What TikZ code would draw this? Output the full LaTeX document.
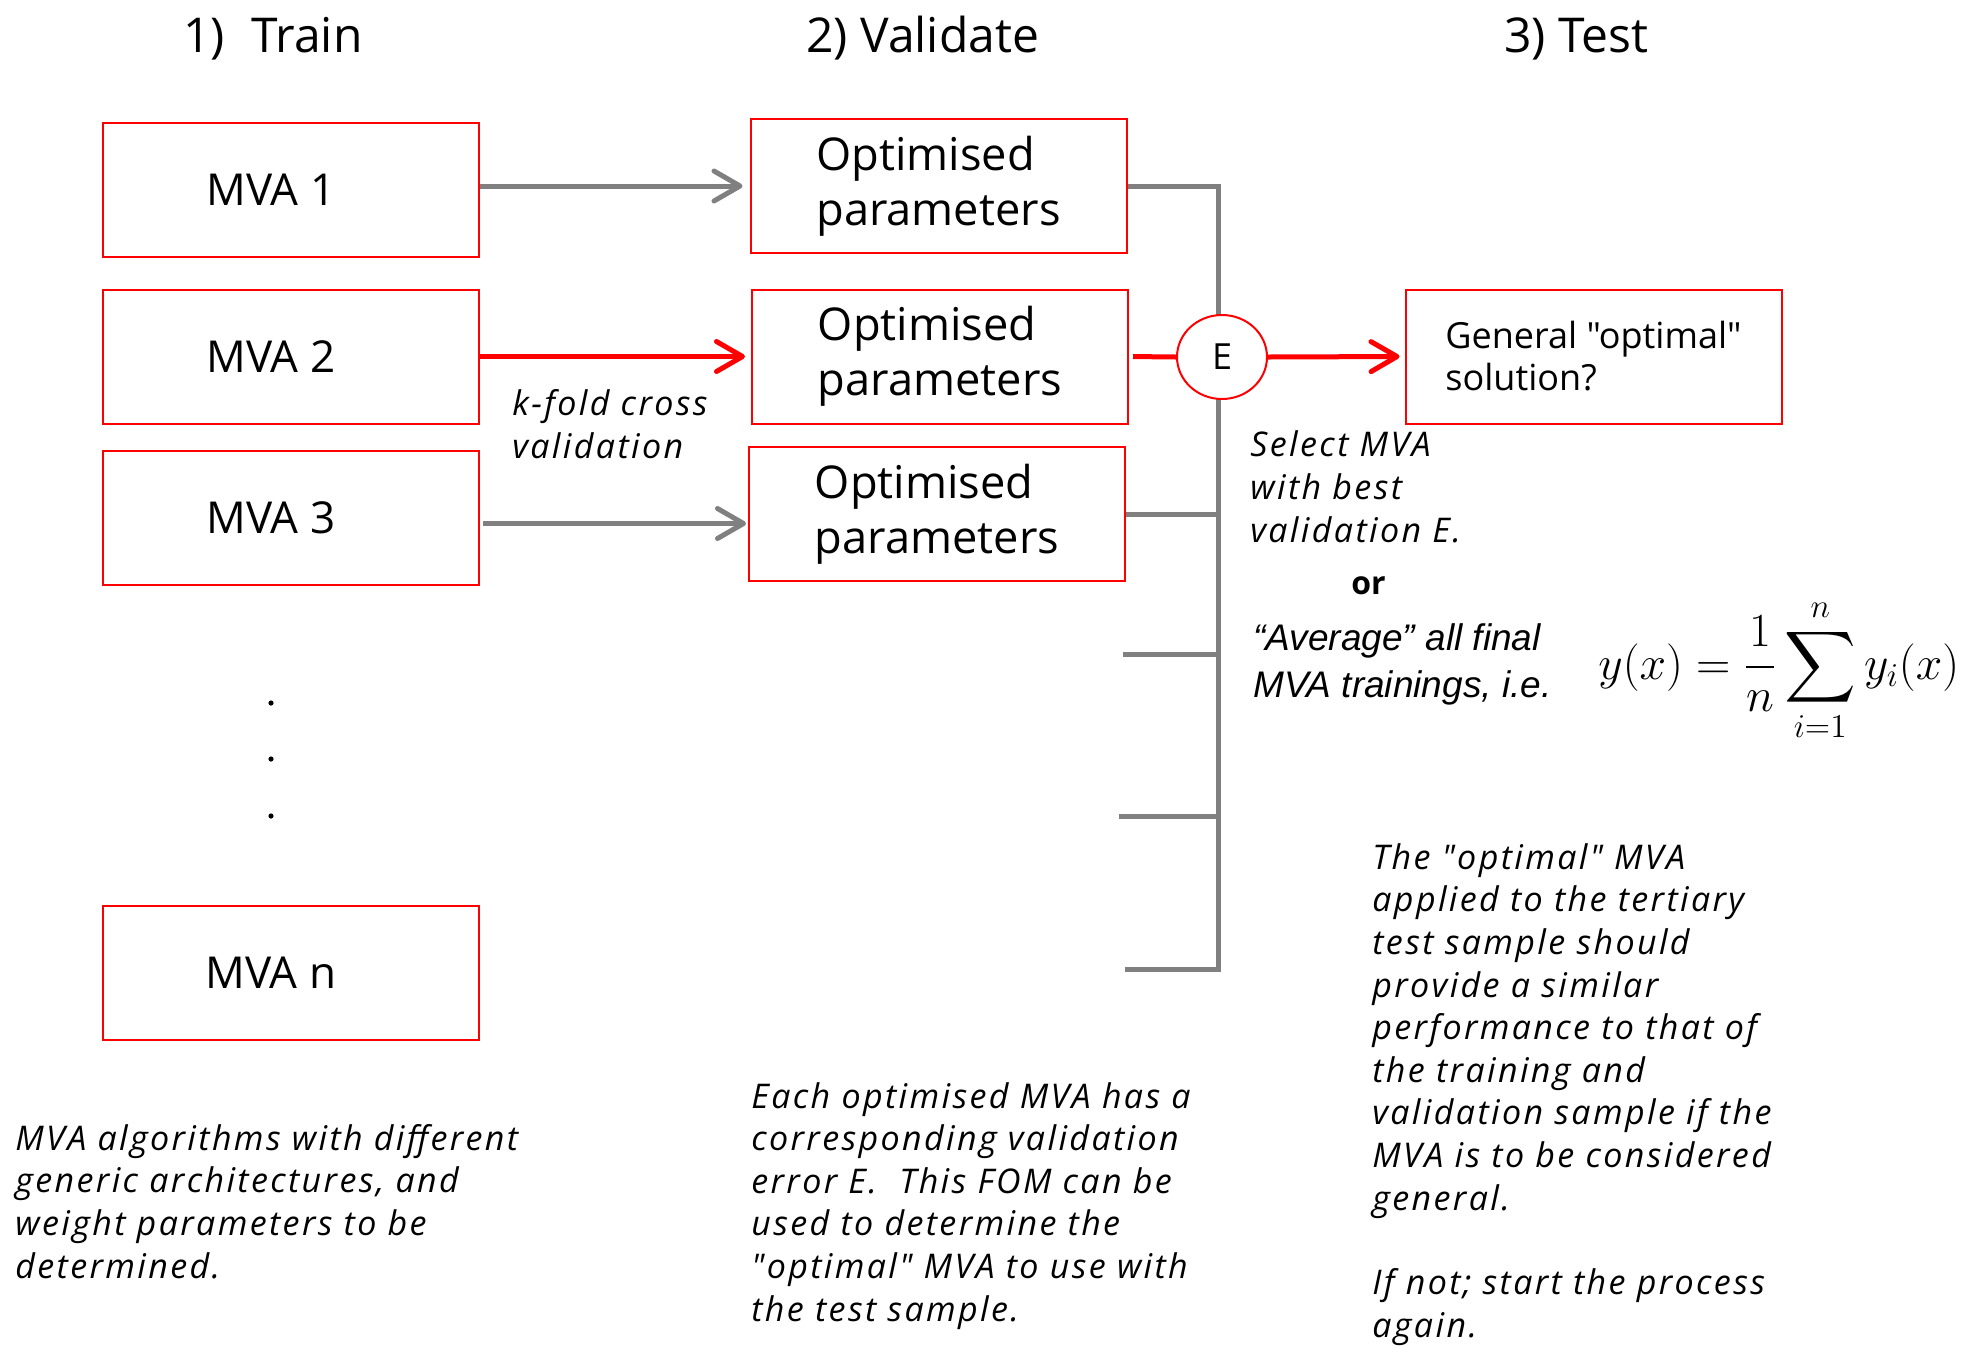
\RequirePackage{fix-cm}
\documentclass[tikz,border=0pt]{standalone}
\usepackage{exscale}
\usepackage[no-math]{fontspec}
\setmainfont{Open Sans}[Ligatures=TeXOff]
\newfontfamily\notefont{Open Sans}[LetterSpace=7,Ligatures=TeXOff]
\newfontfamily\avgfont{Liberation Sans}
\usetikzlibrary{arrows.meta,shapes.geometric}
\definecolor{boxred}{RGB}{255,0,0}
\definecolor{linegray}{RGB}{128,128,128}

\begin{document}
\begin{tikzpicture}[x=0.5pt,y=-0.5pt,
  box/.style={draw=boxred, line width=1pt, rectangle, inner sep=0pt,
    minimum width=188pt, minimum height=67pt},
  mvalabel/.style={inner sep=0pt, font=\fontsize{22}{27}\selectfont},
  optbox/.style={box, align=left, font=\fontsize{22.6}{27.5}\selectfont},
  genbox/.style={box, align=left, font=\fontsize{18}{21}\selectfont},
  header/.style={anchor=base west, inner sep=0pt, font=\fontsize{24}{29}\selectfont},
  note/.style={anchor=base west, inner sep=0pt, align=left,
    font=\fontsize{17}{21.3}\selectfont\notefont\itshape},
  tip/.style={-{Straight Barb[length=13pt,width=15pt,line cap=round,line join=round]}},
  grayarrow/.style={draw=linegray, line width=2.5pt, tip},
  redarrow/.style={draw=boxred, line width=2.5pt, tip},
  bus/.style={draw=linegray, line width=2.5pt},
  redline/.style={draw=boxred, line width=2.5pt},
]
\useasboundingbox (0,0) rectangle (1965,1345);

% column headers
\node[header] (h1) at (183,52) {1)\hspace{0.55em}Train};
\node[header] (h2) at (806,52) {2) Validate};
\node[header] (h3) at (1504,52) {3) Test};

% training boxes
\node[box] (mva1) at (291,190) {};
\node[box] (mva2) at (291,356.5) {};
\node[box] (mva3) at (291,517.5) {};
\node[box] (mvan) at (291,973) {};
\node[mvalabel] (mva1t) at (271,190) {MVA 1};
\node[mvalabel] (mva2t) at (271,356.5) {MVA 2};
\node[mvalabel] (mva3t) at (271,517.5) {MVA 3};
\node[mvalabel] (mvant) at (271,973) {MVA n};

% ellipsis dots
\fill (271,703) circle (1.3pt);
\fill (271,759) circle (1.3pt);
\fill (271,816) circle (1.3pt);

% validation boxes
\node[optbox] (opt1) at (938.5,186) {Optimised\\parameters};
\node[optbox] (opt2) at (940,356.5) {Optimised\\parameters};
\node[optbox] (opt3) at (937,514) {Optimised\\parameters};

% result box
\node[genbox] (gen) at (1593.5,356.5) {General "optimal"\\solution?};

% training -> validation
\draw[grayarrow, shorten >=3.5pt] (mva1.east |- opt1.west) -- (opt1.west);
\draw[redarrow, shorten >=3pt] (mva2.east) -- (opt2.west);
\coordinate (m3a) at ([xshift=1.5pt,yshift=-3pt]mva3.east);
\draw[grayarrow, shorten >=1pt] (m3a) -- (m3a -| opt3.west);

% collecting bus
\coordinate (bustop) at (1218,186);
\coordinate (busbot) at (1218,969);
\coordinate (stub1) at (1123,654);
\coordinate (stub2) at (1119,816);
\coordinate (stub3) at (1125,969);
\draw[bus, line join=miter] (opt1.east) -- (bustop) -- (busbot) -- (stub3);
\draw[bus] (opt3.east) -- (opt3.east -| bustop);
\draw[bus] (stub1) -- (stub1 -| bustop);
\draw[bus] (stub2) -- (stub2 -| bustop);

% error estimator
\node[ellipse, draw=boxred, line width=1pt, fill=white, inner sep=0pt,
  minimum width=45pt, minimum height=42pt,
  font=\fontsize{18}{22}\selectfont] (E) at (1222,357) {E};
\draw[redline, shorten <=2pt] (opt2.east) -- (E.west);
\draw[redarrow, shorten >=2.5pt] (E.east) -- (gen.west);

% annotations (anchored at the baseline of the last line)
\node[note] (kfold) at (512,458) {k-fold cross\\validation};
\node[note] (select) at (1250,542) {Select MVA\\with best\\validation E.};
\node[anchor=base west, inner sep=0pt, font=\fontsize{16}{20}\selectfont\bfseries] (or) at (1351,594) {or};
\node[anchor=base west, inner sep=0pt, align=left,
  font=\fontsize{18.5}{23.5}\selectfont\avgfont\itshape] (avg) at (1253,697)
  {“Average” all final\\MVA trainings, i.e.};
\node[anchor=base west, inner sep=0pt, font=\fontsize{23.8}{28}\selectfont] (formula) at (1598,679)
  {$\displaystyle y(x)=\frac{1}{n}\sum_{i=1}^{n}y_i(x)$};

\node[note] (trainnote) at (15,1278)
  {MVA algorithms with different\\generic architectures, and\\weight parameters to be\\determined.};
\node[note] (valnote) at (751,1321)
  {Each optimised MVA has a\\corresponding validation\\error E.\ \ This FOM can be\\used to determine the\\"optimal" MVA to use with\\the test sample.};
\node[note] (testnote) at (1372,1337)
  {The "optimal" MVA\\applied to the tertiary\\test sample should\\provide a similar\\performance to that of\\the training and\\validation sample if the\\MVA is to be considered\\general.\\[20.9pt]If not; start the process\\again.};
\end{tikzpicture}
\end{document}
